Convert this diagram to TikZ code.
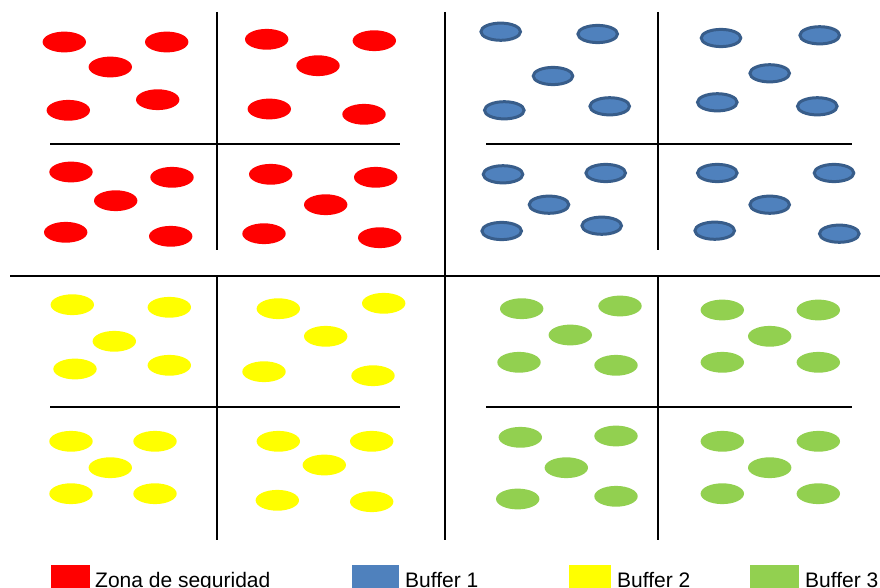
\documentclass[tikz,border=0pt]{standalone}
\usepackage{fontspec}
\setmainfont{Liberation Sans}
\definecolor{cred}{HTML}{FF0000}
\definecolor{cblue}{HTML}{4F81BD}
\definecolor{cblueb}{HTML}{385D8A}
\definecolor{cyellow}{HTML}{FFFF00}
\definecolor{cgreen}{HTML}{92D050}
\tikzset{
  divline/.style={line width=2pt, black},
  redell/.style={fill=cred},
  blueell/.style={fill=cblue, draw=cblueb, line width=3pt},
  yelell/.style={fill=cyellow},
  greenell/.style={fill=cgreen},
  legtext/.style={anchor=base west, inner sep=0pt, font=\fontsize{21}{25}\selectfont, text=black}
}
\begin{document}
\begin{tikzpicture}[x=1pt,y=-1pt]
\useasboundingbox (0,0) rectangle (880,588);
\clip (0,0) rectangle (880,588);
% main divisions
\draw[divline] (445,12) -- (445,540);
\draw[divline] (10,276) -- (880,276);
% red quadrant
\draw[divline] (217,12) -- (217,250);
\draw[divline] (50,144) -- (400,144);
% blue quadrant
\draw[divline] (658,12) -- (658,250);
\draw[divline] (486,144) -- (852,144);
% yellow quadrant
\draw[divline] (217,276) -- (217,540);
\draw[divline] (50,407) -- (400,407);
% green quadrant
\draw[divline] (658,276) -- (658,540);
\draw[divline] (486,407) -- (852,407);
% red ellipses
\foreach \px/\py in {64.3/42,166.7/42,110.3/67,68.3/110.3,157.7/99.7,
  266.7/39.3,374.3/40.7,318/65.7,269.3/109,364/114.3,
  71/172,172/177.3,115.7/200.7,65.7/232.3,170.7/236.3,
  270.7/174.3,375.7/177.3,325.7/204.7,264/233.7,379.7/237.7}
  \path[redell] (\px,\py) ellipse [x radius=21.7pt, y radius=10.4pt];
% blue ellipses
\foreach \px/\py in {500.7/31.7,597.7/34,553/76,504.3/110.3,609.7/106.3,
  721/38,819.7/35.3,769.7/73.3,717.3/102.3,817.3/106.3,
  503/174.3,605.7/173,549/204.7,501.7/231,601.7/225.7,
  717.3/173,834/173,769.7/204.7,714.7/230.7,839.3/233.7}
  \path[blueell] (\px,\py) ellipse [x radius=19.8pt, y radius=8.6pt];
% yellow ellipses
\foreach \px/\py in {72.3/304.7,169.3/307.3,114.3/341.3,75/369,169.3/365.3,
  278.3/308.7,383.7/303.3,325.7/336.3,264/371.7,373/375.7,
  71/441.3,155/441.3,110.3/467.7,71/493.7,155/493.7,
  278.3/441.3,371.7/441.3,324.3/465,277.3/500.3,371.7/501.7}
  \path[yelell] (\px,\py) ellipse [x radius=21.7pt, y radius=10.4pt];
% green ellipses
\foreach \px/\py in {521.7/308.7,620/306,570.3/335,519/362.3,616/365.3,
  722.3/310,818.3/310,769.7/336.3,722.3/362.3,818.3/362.3,
  520.3/437.3,616/436,566.3/467.7,517.7/499,616/496.3,
  722.3/441.3,818.3/441.3,769.7/467.7,722.3/493.7,818.3/493.7}
  \path[greenell] (\px,\py) ellipse [x radius=21.7pt, y radius=10.4pt];
% legend
\fill[cred] (51,565) rectangle (90,600);
\node[legtext] (l1) at (95,587) {Zona de seguridad};
\fill[cblue] (352,565) rectangle (399,600);
\node[legtext] (l2) at (405,587) {Buffer 1};
\fill[cyellow] (569,565) rectangle (611,600);
\node[legtext] (l3) at (617,587) {Buffer 2};
\fill[cgreen] (750,565) rectangle (799,600);
\node[legtext] (l4) at (805,587) {Buffer 3};
\end{tikzpicture}
\end{document}
